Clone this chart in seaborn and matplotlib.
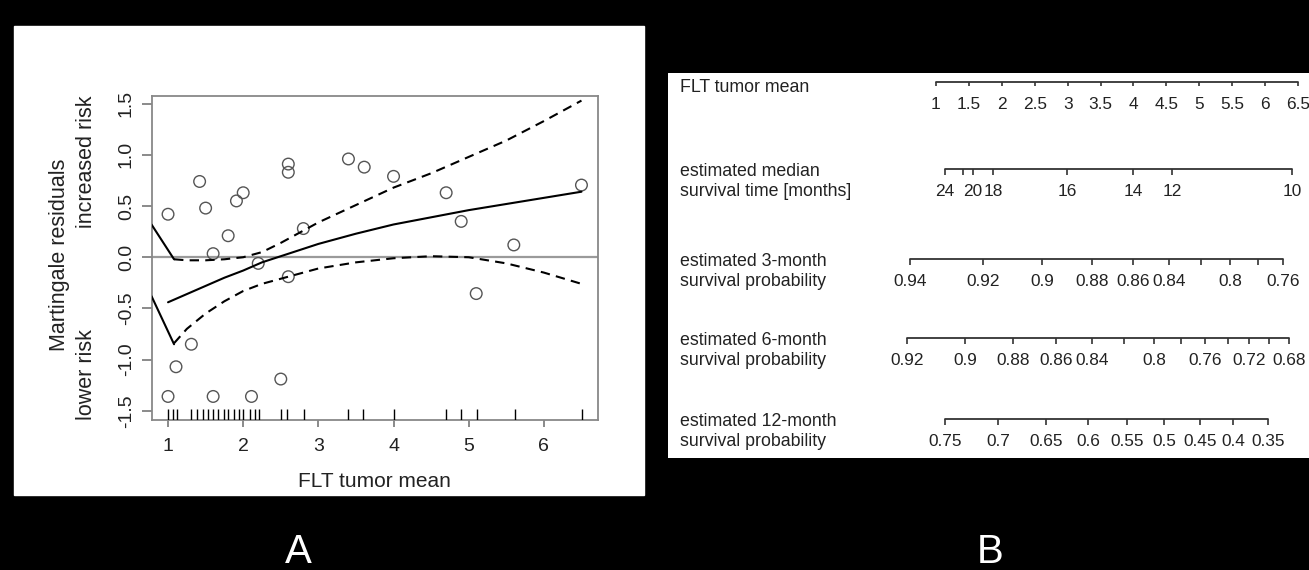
import matplotlib
matplotlib.use("Agg")
import matplotlib.pyplot as plt
import seaborn as sns
import pandas as pd
from matplotlib.patches import Rectangle

# ---- panel A: martingale residuals ----
flt_x = [1.0, 1.0, 1.106, 1.31, 1.42, 1.50, 1.60, 1.60, 1.80, 1.91, 2.0, 2.11, 2.20,
         2.50, 2.60, 2.60, 2.60, 2.80, 3.40, 3.61, 4.0, 4.70, 4.90, 5.10, 5.60, 6.50]
resid = [0.42, -1.36, -1.07, -0.85, 0.74, 0.48, 0.035, -1.36, 0.21, 0.55, 0.63, -1.36, -0.06,
         -1.19, 0.91, 0.83, -0.19, 0.28, 0.96, 0.88, 0.79, 0.63, 0.35, -0.355, 0.12, 0.705]
rug_x = [1.0, 1.07, 1.12, 1.31, 1.39, 1.46, 1.53, 1.60, 1.67, 1.74, 1.80, 1.88, 1.94, 2.0,
         2.09, 2.16, 2.21, 2.50, 2.58, 2.81, 3.40, 3.60, 4.0, 4.70, 4.90, 5.11, 5.61, 6.51]

fit_x = [1.0, 1.25, 1.5, 1.75, 2.0, 2.25, 2.5, 2.75, 3.0, 3.5, 4.0, 4.5, 5.0, 5.5, 6.0, 6.5]
fit_y = [-0.44, -0.36, -0.28, -0.20, -0.13, -0.05, 0.01, 0.07, 0.13, 0.23, 0.32, 0.39,
         0.46, 0.52, 0.58, 0.64]
ci_x = [1.08, 1.25, 1.5, 1.75, 2.0, 2.25, 2.5, 2.75, 3.0, 3.5, 4.0, 4.5, 5.0, 5.5, 6.0, 6.5]
ci_up = [-0.02, -0.03, -0.03, -0.02, 0.0, 0.05, 0.14, 0.24, 0.34, 0.51, 0.68, 0.82,
         0.98, 1.14, 1.33, 1.53]
ci_lo = [-0.84, -0.70, -0.55, -0.43, -0.33, -0.26, -0.21, -0.16, -0.11, -0.05, -0.01,
         0.01, 0.0, -0.06, -0.15, -0.26]
stub_x = [0.78, 1.08]
stub_up = [0.32, -0.02]
stub_lo = [-0.38, -0.85]

# ---- panel B: nomogram (positions on the FLT scale) ----
row_names = ["FLT tumor mean",
             "estimated median\nsurvival time [months]",
             "estimated 3-month\nsurvival probability",
             "estimated 6-month\nsurvival probability",
             "estimated 12-month\nsurvival probability"]
flt_pos = [1, 1.5, 2, 2.5, 3, 3.5, 4, 4.5, 5, 5.5, 6, 6.5]
flt_lab = ["1", "1.5", "2", "2.5", "3", "3.5", "4", "4.5", "5", "5.5", "6", "6.5"]
med_pos = [1.137, 1.41, 1.562, 1.866, 2.991, 3.994, 4.587, 6.41]
med_lab = ["24", "", "20", "18", "16", "14", "12", "10"]
s3_pos = [0.605, 1.719, 2.616, 3.366, 3.999, 4.546, 5.027, 5.468, 5.889, 6.269]
s3_lab = ["0.94", "0.92", "0.9", "0.88", "0.86", "0.84", "", "0.8", "", "0.76"]
s6_pos = [0.555, 1.441, 2.175, 2.824, 3.366, 3.862, 4.313, 4.723, 5.087, 5.433,
          5.761, 6.065, 6.369]
s6_lab = ["0.92", "0.9", "0.88", "0.86", "0.84", "", "0.8", "", "0.76", "", "0.72",
          "", "0.68"]
s12_pos = [1.137, 1.947, 2.672, 3.315, 3.907, 4.470, 5.012, 5.518, 6.050]
s12_lab = ["0.75", "0.7", "0.65", "0.6", "0.55", "0.5", "0.45", "0.4", "0.35"]

W, H = 1309, 570
sns.set_style("ticks")
plt.rcParams['font.family'] = ['Liberation Sans', 'DejaVu Sans']

fig = plt.figure(figsize=(W / 100, H / 100), dpi=100, facecolor="black")


def fx(px):
    return px / W


def fy(py):
    return 1 - py / H


# white background of panel A
fig.add_artist(Rectangle((fx(14), fy(495)), fx(644 - 14), (495 - 26) / H,
                         transform=fig.transFigure, color="white", zorder=0))

# panel A axes
axA = fig.add_axes([fx(151.5), fy(420), fx(598 - 151.5), (420 - 96) / H])
axA.set_facecolor("white")
df = pd.DataFrame({"flt": flt_x, "res": resid})
axA.axhline(0, color="#9a9a9a", lw=1.6, zorder=1)
sns.scatterplot(data=df, x="flt", y="res", ax=axA, marker="o", s=70,
                facecolor="none", edgecolor="#555555", linewidth=1.0, zorder=3)
sns.lineplot(x=fit_x, y=fit_y, ax=axA, color="black", lw=1.5, zorder=4)
for yy in (ci_up, ci_lo):
    sns.lineplot(x=ci_x, y=yy, ax=axA, color="black", lw=1.5, zorder=4,
                 dashes=False, linestyle=(0, (4.5, 3)))
for yy in (stub_up, stub_lo):
    sns.lineplot(x=stub_x, y=yy, ax=axA, color="black", lw=1.5, zorder=4)
sns.rugplot(x=rug_x, ax=axA, height=0.034, color="black", lw=1.9,
            expand_margins=False, zorder=4)

axA.set_xlim(0.78, 6.72)
axA.set_ylim(-1.59, 1.575)
axA.set_xticks([1, 2, 3, 4, 5, 6])
axA.set_yticks([-1.5, -1.0, -0.5, 0.0, 0.5, 1.0, 1.5])
axA.set_yticklabels(["-1.5", "-1.0", "-0.5", "0.0", "0.5", "1.0", "1.5"],
                    rotation=90, va="center")
axA.tick_params(axis="x", length=5, width=1.2, color="#777777", labelsize=14,
                pad=8, labelcolor="#222222")
axA.tick_params(axis="y", length=7, width=1.2, color="#777777", labelsize=14,
                pad=5, labelcolor="#222222")
for sp in axA.spines.values():
    sp.set_color("#888888")
    sp.set_linewidth(1.3)
axA.set_xlabel("FLT tumor mean", fontsize=15, color="#222222", labelpad=12)
axA.set_ylabel("")
fig.text(fx(59), fy(255), "Martingale residuals", rotation=90, fontsize=15.5,
         ha="center", va="center", color="#222222")
axA.text(-0.146, 1.0, "increased risk", rotation=90, fontsize=15.5, ha="center",
         va="top", color="#222222", transform=axA.transAxes)
axA.text(-0.146, 0.0, "lower risk", rotation=90, fontsize=15.5, ha="center",
         va="bottom", color="#222222", transform=axA.transAxes)

# panel B axes: x in FLT units, y in rows
axB = fig.add_axes([fx(668), fy(458), fx(W - 668), (458 - 73) / H])
axB.set_facecolor("white")
axB.set_xlim(1 + (668 - 936) / 65.8, 1 + (W - 936) / 65.8)
axB.set_ylim(458, 73)
axB.axis("off")
axB.add_patch(Rectangle((0, 0), 1, 1, transform=axB.transAxes, color="white", zorder=0))

row_y = [82, 169, 259, 338, 419]
tick_len = [4, 6, 6, 6, 6]
rows = [(flt_pos, flt_lab), (med_pos, med_lab), (s3_pos, s3_lab),
        (s6_pos, s6_lab), (s12_pos, s12_lab)]
for i, (pos, lab) in enumerate(rows):
    y0 = row_y[i]
    axB.plot([pos[0], pos[-1]], [y0, y0], color="#333333", lw=1.3)
    axB.vlines(pos, y0, y0 + tick_len[i], color="#333333", lw=1.2)
    for p, t in zip(pos, lab):
        axB.text(p, y0 + 22.5, t, ha="center", va="center", fontsize=12.4,
                 color="#222222")
    yy = y0 + 6 if i == 0 else y0 + 12.5
    axB.text(0.019, yy, row_names[i], transform=axB.get_yaxis_transform(),
             ha="left", va="center", fontsize=12.8, color="#222222",
             linespacing=1.22)

fig.text(fx(298), fy(552), "A", color="white", fontsize=29, ha="center", va="center")
fig.text(fx(990), fy(552), "B", color="white", fontsize=29, ha="center", va="center")

fig.savefig("out.png", dpi=100, facecolor="black")
